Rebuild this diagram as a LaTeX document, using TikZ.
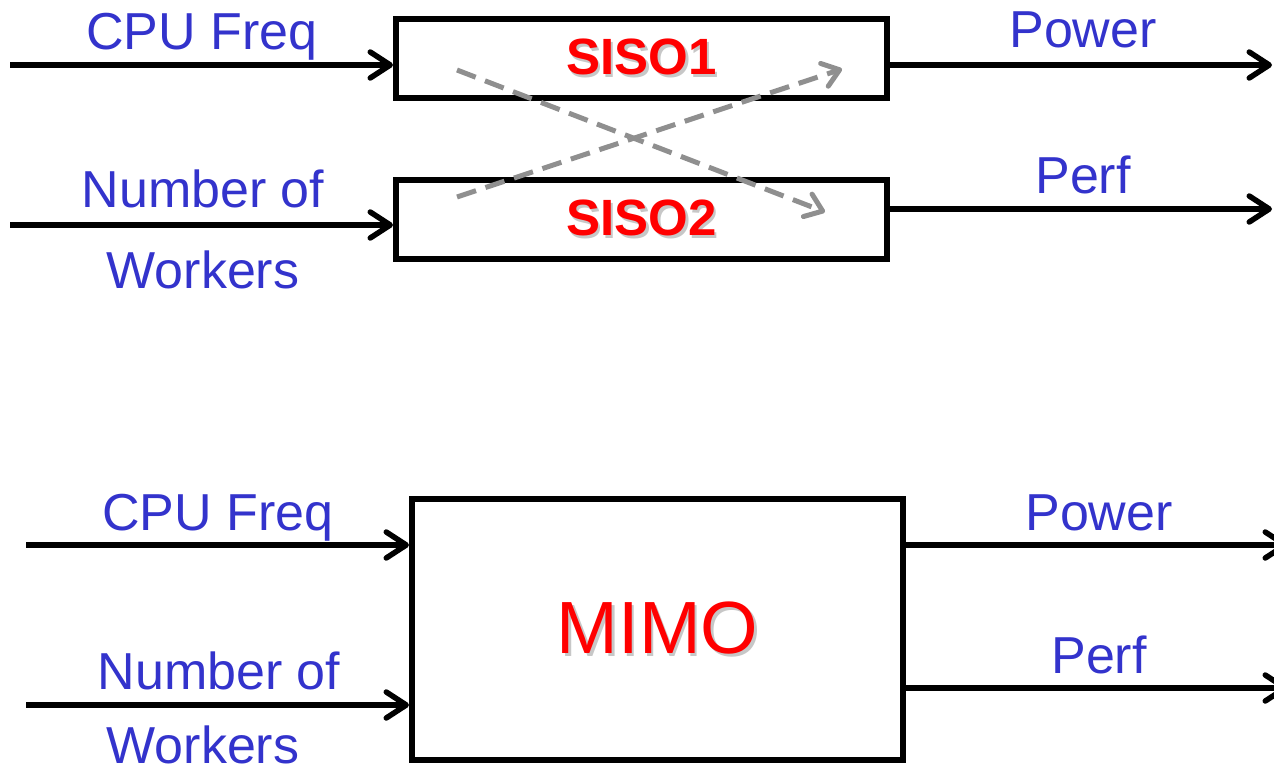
\documentclass[tikz,border=0pt]{standalone}
\usepackage{fontspec}
\setmainfont{Liberation Sans}
\usetikzlibrary{arrows.meta}
\definecolor{lblue}{RGB}{51,51,204}
\definecolor{dgray}{RGB}{143,143,143}
\definecolor{sred}{RGB}{255,0,0}
\newcommand{\shadowed}[1]{\makebox[0pt][l]{\hspace{2.5pt}\raisebox{-2.5pt}{\color{black!22}#1}}#1}
\begin{document}
\begin{tikzpicture}[x=1pt,y=-1pt,
  boxnode/.style={draw, line width=6pt, inner sep=0pt, minimum width=491pt},
  lbl/.style={text=lblue, font=\fontsize{52}{60}\selectfont, anchor=base, inner sep=0pt},
  conn/.style={line width=5.5pt, -{Straight Barb[length=20pt,width=26pt,round]}},
  cross/.style={draw=dgray, line width=5pt, dash pattern=on 20pt off 10pt, -{Straight Barb[length=16pt,width=24pt,round]}}
]
\useasboundingbox (0,0) rectangle (1274,768);

% ---------- top: two SISO boxes ----------
\node[boxnode, minimum height=79pt, text=sred, font=\fontsize{51}{60}\selectfont\bfseries] (s1) at (641.5,58.5) {\raisebox{-3pt}{\shadowed{SISO1}}};
\node[boxnode, minimum height=79pt, text=sred, font=\fontsize{51}{60}\selectfont\bfseries] (s2) at (641.5,219.5) {\raisebox{-2pt}{\shadowed{SISO2}}};

\coordinate (i1) at (10,65);
\coordinate (i2) at (10,225);
\coordinate (o1) at (1272,65);
\coordinate (o2) at (1272,209);
\draw[conn] (i1) -- (i1 -| s1.west);
\draw[conn] (i2) -- (i2 -| s2.west);
\draw[conn] (o1 -| s1.east) -- (o1);
\draw[conn] (o2 -| s2.east) -- (o2);

\node[lbl] (l1) at (202,50) {CPU Freq};
\node[lbl] (l2) at (203,207) {Number of};
\node[lbl] (l3) at (203,288) {Workers};
\node[lbl] (l4) at (1083,48) {Power};
\node[lbl] (l5) at (1083,193) {Perf};

\coordinate (c1s) at (457,70);
\coordinate (c1e) at (825,212);
\coordinate (c2s) at (457,197);
\coordinate (c2e) at (842,69);
\draw[cross] (c1s) -- (c1e);
\draw[cross] (c2s) -- (c2e);

% ---------- bottom: MIMO box ----------
\node[boxnode, minimum height=261pt, text=sred, font=\fontsize{74}{80}\selectfont] (m) at (657.5,629.5) {\shadowed{MIMO}};

\coordinate (j1) at (26,545);
\coordinate (j2) at (26,705);
\coordinate (p1) at (1288,545);
\coordinate (p2) at (1288,688);
\draw[conn] (j1) -- (j1 -| m.west);
\draw[conn] (j2) -- (j2 -| m.west);
\draw[conn] (p1 -| m.east) -- (p1);
\draw[conn] (p2 -| m.east) -- (p2);

\node[lbl] (b1) at (218,530) {CPU Freq};
\node[lbl] (b2) at (219,689) {Number of};
\node[lbl] (b3) at (203,763) {Workers};
\node[lbl] (b4) at (1099,530) {Power};
\node[lbl] (b5) at (1099,673) {Perf};
\end{tikzpicture}
\end{document}
